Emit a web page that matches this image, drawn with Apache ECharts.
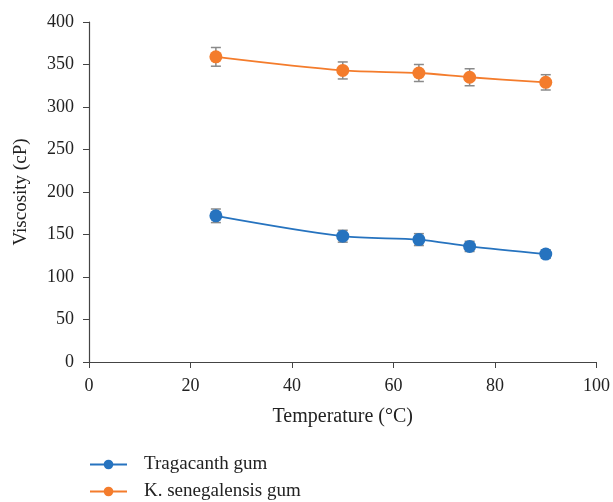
<!DOCTYPE html>
<html>
<head>
<meta charset="utf-8">
<script src="https://cdn.jsdelivr.net/npm/echarts@6/dist/echarts.min.js"></script>
<style>html,body{margin:0;padding:0;background:#fff}#main{width:613px;height:502px}</style>
</head>
<body>
<div id="main"></div>
<script>
// 数据
var temps = [25, 50, 65, 75, 90];
var tragacanth = [172, 148, 144, 136, 127];
var tragacanthErr = [8, 7, 7, 6, 5];
var senegalensis = [359, 343, 340, 335, 329];
var senegalensisErr = [11, 10, 10, 10, 9];
var xTicks = [0, 20, 40, 60, 80, 100];
var yTicks = [0, 50, 100, 150, 200, 250, 300, 350, 400];

var blue = '#2673bf';
var orange = '#f47c2c';
var font = '"Liberation Serif", "DejaVu Serif", serif';

var myChart = echarts.init(document.getElementById('main'));

function pairs(xs, ys) {
	var out = [];
	for (var i = 0; i < xs.length; i++) out.push([xs[i], ys[i]]);
	return out;
}

function errData(xs, ys, es) {
	var out = [];
	for (var i = 0; i < xs.length; i++) out.push([xs[i], ys[i] - es[i], ys[i] + es[i]]);
	return out;
}

// 误差线
function renderErr(params, api) {
	var lo = api.coord([api.value(0), api.value(1)]);
	var hi = api.coord([api.value(0), api.value(2)]);
	var w = 5;
	var st = {stroke: '#8a8a8a', lineWidth: 1.5};
	return {
		type: 'group',
		children: [
			{type: 'line', shape: {x1: lo[0], y1: lo[1], x2: hi[0], y2: hi[1]}, style: st},
			{type: 'line', shape: {x1: lo[0] - w, y1: lo[1], x2: lo[0] + w, y2: lo[1]}, style: st},
			{type: 'line', shape: {x1: hi[0] - w, y1: hi[1], x2: hi[0] + w, y2: hi[1]}, style: st}
		]
	};
}

var option = {
	animation: false,
	textStyle: {fontFamily: font},
	grid: {left: 89, right: 16, top: 22, bottom: 140},
	legend: {
		orient: 'vertical', left: 89, top: 455, itemGap: 8, padding: 0,
		itemWidth: 37, itemHeight: 12,
		textStyle: {fontFamily: font, fontSize: 19, color: '#222', padding: [0, 0, 0, 12]},
		data: ['Tragacanth gum', 'K. senegalensis gum']
	},
	xAxis: {
		type: 'value', min: 0, max: 100, interval: 20,
		name: 'Temperature (°C)', nameLocation: 'middle', nameGap: 45,
		nameTextStyle: {fontFamily: font, fontSize: 20, color: '#222'},
		axisLine: {lineStyle: {color: '#444', width: 1.2}},
		axisTick: {show: true, length: 6, lineStyle: {color: '#444'}},
		axisLabel: {fontFamily: font, fontSize: 18, color: '#222', margin: 15,
			formatter: function (v) { return xTicks.indexOf(v) >= 0 ? v : ''; }},
		splitLine: {show: false}
	},
	yAxis: {
		type: 'value', min: 0, max: 400, interval: 50,
		name: 'Viscosity (cP)', nameLocation: 'middle', nameGap: 58,
		nameTextStyle: {fontFamily: font, fontSize: 19, color: '#222'},
		axisLine: {show: true, lineStyle: {color: '#444', width: 1.2}},
		axisTick: {show: true, length: 6, lineStyle: {color: '#444'}},
		axisLabel: {fontFamily: font, fontSize: 18, color: '#222', margin: 15,
			formatter: function (v) { return yTicks.indexOf(v) >= 0 ? v : ''; }},
		splitLine: {show: false}
	},
	series: [
		{type: 'custom', renderItem: renderErr, data: errData(temps, tragacanth, tragacanthErr), z: 1, silent: true},
		{type: 'custom', renderItem: renderErr, data: errData(temps, senegalensis, senegalensisErr), z: 1, silent: true},
		{
			name: 'Tragacanth gum', type: 'line', smooth: 0.3, data: pairs(temps, tragacanth),
			symbol: 'circle', symbolSize: 13, z: 3,
			itemStyle: {color: blue}, lineStyle: {color: blue, width: 1.8}
		},
		{
			name: 'K. senegalensis gum', type: 'line', smooth: 0.3, data: pairs(temps, senegalensis),
			symbol: 'circle', symbolSize: 13, z: 3,
			itemStyle: {color: orange}, lineStyle: {color: orange, width: 1.8}
		}
	]
};
myChart.setOption(option);
</script>
</body>
</html>
